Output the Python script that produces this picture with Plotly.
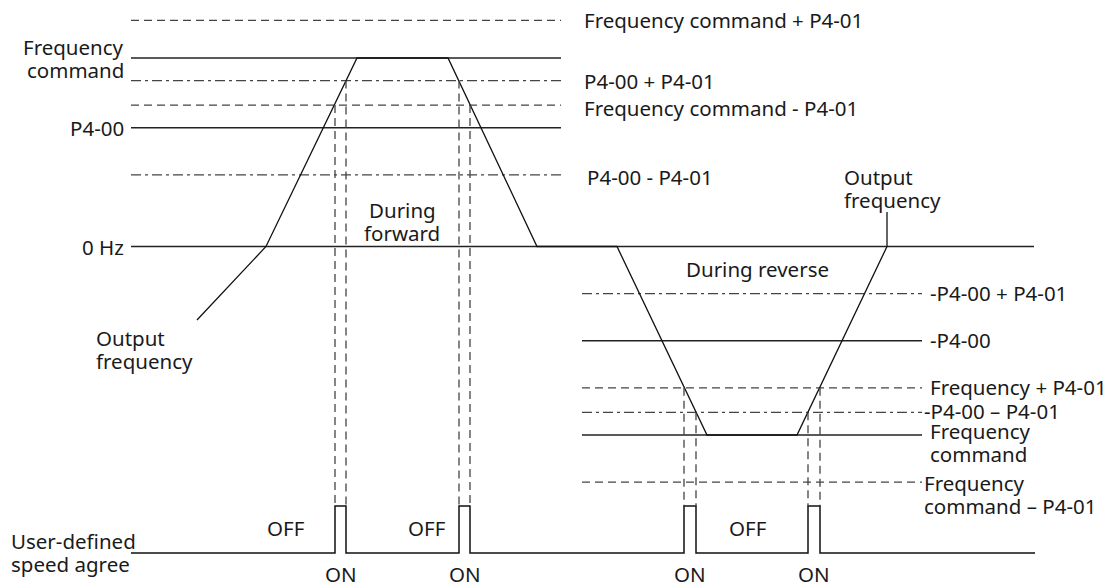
import plotly.graph_objects as go

# ---- Signal levels (frequency units: 0 Hz = 0, frequency command = 100) ----
fwd_levels = [120, 100, 88, 75, 63, 38]
fwd_styles = ["dash", "solid", "dashdot", "dash", "solid", "dashdot"]
fwd_right_labels = ["Frequency command + P4-01", "", "P4-00 + P4-01",
                    "Frequency command - P4-01", "", "P4-00 - P4-01"]
left_labels = ["Frequency<br>command", "P4-00", "0 Hz"]
left_label_levels = [100, 63, 0]

rev_levels = [-25, -50, -75, -88, -100, -125]
rev_styles = ["dashdot", "solid", "dash", "dashdot", "solid", "dash"]
rev_labels = ["-P4-00 + P4-01", "-P4-00", "Frequency + P4-01",
              "-P4-00 \u2013 P4-01", "Frequency<br>command",
              "Frequency<br>command \u2013 P4-01"]

# ---- Output frequency profile (time, frequency) ----
out_t = [197, 266, 357, 448, 537, 617, 707, 797, 887]
out_f = [-39, 0, 100, 100, 0, 0, -100, -100, 0]

# ---- Speed agree output: ON intervals and the levels that switch them ----
on_start = [335, 459, 684, 808]
on_end = [346, 470, 696, 820]
start_level = [75, 88, -75, -88]
end_level = [88, 75, -88, -75]

# ---- Axis ranges ----
TIME_RANGE = [0, 1115]
FREQ_RANGE = [-179.05, 130.77]
LANE_RANGE = [-0.66, 11.77]
FWD_SPAN = (131, 561)
REV_SPAN = (582, 922)
ZERO_SPAN = (131, 1034)
LANE_SPAN = (131, 1035)

DASHES = {"solid": "solid", "dash": "8px,5px", "dashdot": "10px,4px,3px,4px"}
COLORS = {"solid": "#222222", "dash": "#444444", "dashdot": "#444444"}
FONT = dict(family="Noto Sans, Open Sans, sans-serif", size=20.5, color="#1a1a1a")
LINE_GAP = 23  # px between lines of a multi-line label


def freq_to_lane(v):
    frac = (v - FREQ_RANGE[0]) / (FREQ_RANGE[1] - FREQ_RANGE[0])
    return LANE_RANGE[0] + frac * (LANE_RANGE[1] - LANE_RANGE[0])


fig = go.Figure()


def level_trace(levels, styles, span, style):
    xs, ys = [], []
    for lv, st in zip(levels, styles):
        if st == style:
            xs += [span[0], span[1], None]
            ys += [lv, lv, None]
    return xs, ys


for style in ("solid", "dash", "dashdot"):
    xs, ys = level_trace(fwd_levels, fwd_styles, FWD_SPAN, style)
    rx, ry = level_trace(rev_levels, rev_styles, REV_SPAN, style)
    xs += rx
    ys += ry
    if style == "solid":
        xs += [ZERO_SPAN[0], ZERO_SPAN[1], None]
        ys += [0, 0, None]
    fig.add_trace(go.Scatter(
        x=xs, y=ys, mode="lines", hoverinfo="skip",
        line=dict(color=COLORS[style], width=1.3, dash=DASHES[style]),
    ))

# output frequency curve
fig.add_trace(go.Scatter(
    x=out_t, y=out_f, mode="lines", hoverinfo="skip",
    line=dict(color="#111111", width=1.3),
))
# leader from the reverse curve end up to its label
fig.add_trace(go.Scatter(
    x=[out_t[-1], out_t[-1]], y=[out_f[-1], 18.3], mode="lines", hoverinfo="skip",
    line=dict(color="#111111", width=1.3),
))

# speed agree digital signal
px, py = [LANE_SPAN[0]], [0]
for s, e in zip(on_start, on_end):
    px += [s, s, e, e]
    py += [0, 1, 1, 0]
px.append(LANE_SPAN[1])
py.append(0)
fig.add_trace(go.Scatter(
    x=px, y=py, yaxis="y2", mode="lines", hoverinfo="skip",
    line=dict(color="#111111", width=1.5),
))

# dashed projections from the threshold crossings down to the pulses
vx, vy = [], []
for s, e, ls, le in zip(on_start, on_end, start_level, end_level):
    vx += [s, s, None, e, e, None]
    vy += [freq_to_lane(ls), 1, None, freq_to_lane(le), 1, None]
fig.add_trace(go.Scatter(
    x=vx, y=vy, yaxis="y2", mode="lines", hoverinfo="skip",
    line=dict(color="#444444", width=1.3, dash=DASHES["dash"]),
))

ann = []


def label(text, x, y, xanchor="left", yref="y", yshift=0):
    lines = text.split("<br>")
    n = len(lines)
    xshift = {"left": -3, "right": 3, "center": 0}[xanchor]
    for i, line in enumerate(lines):
        ann.append(dict(text=line, x=x, y=y, xref="x", yref=yref, xanchor=xanchor,
                        yanchor="middle", showarrow=False, font=FONT,
                        xshift=xshift,
                        yshift=yshift + ((n - 1) / 2 - i) * LINE_GAP))


for t, lv in zip(left_labels, left_label_levels):
    label(t, 123, lv, xanchor="right")

fwd_shift = [0, 0, 0, -3, 0, -2]
for t, lv, sh in zip(fwd_right_labels, fwd_levels, fwd_shift):
    if t:
        label(t, 585 if lv != 38 else 588, lv, yshift=sh)

rev_x = [931, 931, 931, 925, 931, 925]
rev_shift = [1, 1, 1, 1, -8, -12]
for t, lv, xx, sh in zip(rev_labels, rev_levels, rev_x, rev_shift):
    label(t, xx, lv, yshift=sh)

label("Output<br>frequency", 97, -54.4)
label("Output<br>frequency", 845, 31)
label("During<br>forward", 402, 13, xanchor="center")
label("During reverse", 757, -11.9, xanchor="center")
label("User-defined<br>speed agree", 12, 0, yref="y2")

for xx in (286, 427, 748):
    label("OFF", xx, 0.53, xanchor="center", yref="y2")
for s, e in zip(on_start, on_end):
    label("ON", (s + e) / 2, -0.45, xanchor="center", yref="y2")

fig.update_layout(
    width=1115, height=584,
    margin=dict(l=0, r=0, t=0, b=0),
    paper_bgcolor="white", plot_bgcolor="white",
    showlegend=False,
    xaxis=dict(range=TIME_RANGE, visible=False, fixedrange=True),
    yaxis=dict(range=FREQ_RANGE, visible=False, fixedrange=True),
    yaxis2=dict(range=LANE_RANGE, visible=False, overlaying="y", fixedrange=True),
    annotations=ann,
)

fig.write_html("out.html", config={"displayModeBar": False})
